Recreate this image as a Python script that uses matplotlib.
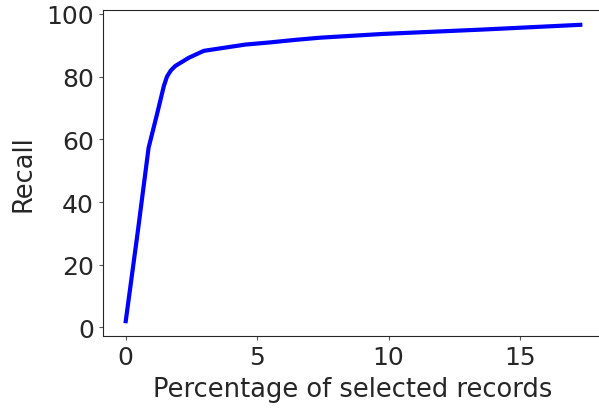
import matplotlib
matplotlib.use("Agg")
import matplotlib.pyplot as plt

# percentage of selected records vs recall
pct_selected = [0.0, 0.45, 0.87, 1.19, 1.45, 1.57, 1.72, 1.89, 2.4, 2.97,
                3.6, 4.55, 5.5, 6.45, 7.4, 9.8, 13.6, 17.29]
recall = [2.0, 30.0, 57.3, 68.0, 77.0, 80.0, 82.0, 83.4, 86.0, 88.2,
          89.0, 90.2, 90.9, 91.7, 92.4, 93.6, 95.0, 96.5]

text_color = '#262626'

fig = plt.figure(figsize=(5.99, 4.10), dpi=100)
ax = fig.add_axes([103 / 599, 1 - 337 / 410, 500 / 599, 326 / 410])
ax.plot(pct_selected, recall, color='blue', linewidth=3)
ax.set_xlabel('Percentage of selected records', fontsize=18.5, color=text_color,
              labelpad=5)
ax.set_ylabel('Recall', fontsize=18.5, color=text_color, labelpad=7)
ax.tick_params(labelsize=18, labelcolor=text_color, color='#555555', length=3)
for sp in ax.spines.values():
    sp.set_color(text_color)
ax.set_xticks([0, 5, 10, 15])
ax.set_yticks([0, 20, 40, 60, 80, 100])
fig.savefig('out.png', dpi=100)
